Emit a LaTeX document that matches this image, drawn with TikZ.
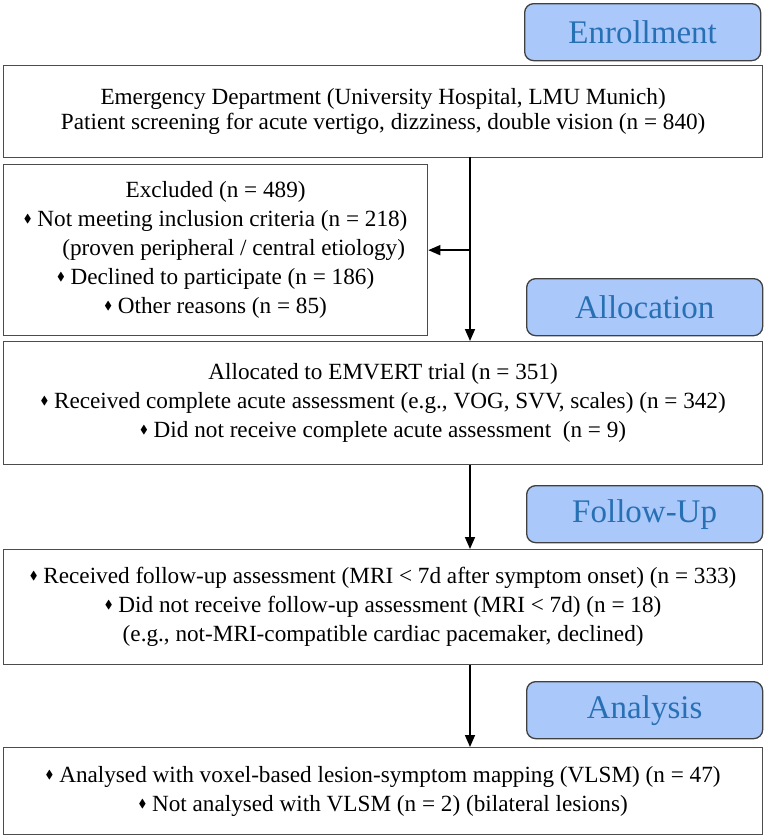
\documentclass[tikz,border=0pt]{standalone}
\usepackage{fontspec}
\usepackage{amssymb}
\usepackage{graphicx}
\setmainfont{Liberation Serif}
\usetikzlibrary{arrows.meta,positioning,calc}

\newcommand{\dia}{\raisebox{0.18em}{\scalebox{0.5}{$\blacklozenge$}}}

\begin{document}
\begin{tikzpicture}[x=1pt,y=-1pt,
    box/.style={draw=black!70, line width=1.3pt, fill=white, anchor=north west,
        align=center, inner sep=0pt, font=\fontsize{23.2}{29}\selectfont},
    stage/.style={draw=black!75, line width=1.3pt, fill=stagefill, rounded corners=9pt,
        anchor=north west, minimum width=236pt, minimum height=57pt, inner sep=0pt,
        text=stagetext, font=\fontsize{33}{36}\selectfont},
    arr/.style={line width=1.6pt, -{Triangle[length=12pt,width=10pt]}}]
    % Definizione colori
    \definecolor{stagefill}{RGB}{170,200,250}
    \definecolor{stagetext}{RGB}{40,112,180}

    \useasboundingbox (0,0) rectangle (765,839);

    % Fasi
    \node[stage] (enroll) at (524,3) {Enrollment};
    \node[stage] (allocst) at (526,278) {Allocation};
    \node[stage] (followst) at (526,485) {Follow-Up};
    \node[stage] (analyst) at (526,681) {Analysis};

    % Riquadri principali
    \node[box, minimum width=759pt, minimum height=92pt,
        font=\fontsize{23.2}{25}\selectfont] (screen) at (3,65)
        {Emergency Department (University Hospital, LMU Munich)\\
         Patient screening for acute vertigo, dizziness, double vision (n = 840)};
    \node[box, minimum width=424pt, minimum height=171pt] (excl) at (3,164)
        {Excluded (n = 489)\\
         \dia\ Not meeting inclusion criteria (n = 218)\\
         \hspace*{36pt}(proven peripheral / central etiology)\\
         \dia\ Declined to participate (n = 186)\\
         \dia\ Other reasons (n = 85)};
    \node[box, minimum width=759pt, minimum height=123pt] (alloc) at (3,341)
        {Allocated to EMVERT trial (n = 351)\\
         \dia\ Received complete acute assessment (e.g., VOG, SVV, scales) (n = 342)\\
         \dia\ Did not receive complete acute assessment\ \ (n = 9)};
    \node[box, minimum width=759pt, minimum height=115pt] (follow) at (3,549)
        {\dia\ Received follow-up assessment (MRI < 7d after symptom onset) (n = 333)\\
         \dia\ Did not receive follow-up assessment (MRI < 7d) (n = 18)\\
         (e.g., not-MRI-compatible cardiac pacemaker, declined)};
    \node[box, minimum width=759pt, minimum height=87pt] (analys) at (3,747)
        {\dia\ Analysed with voxel-based lesion-symptom mapping (VLSM) (n = 47)\\
         \dia\ Not analysed with VLSM (n = 2) (bilateral lesions)};

    % Frecce
    \coordinate (t1) at (470,157);
    \draw[arr] (t1) -- (t1 |- alloc.north);
    \draw[arr] (t1 |- excl.east) -- (excl.east);
    \draw[arr] (t1 |- alloc.south) -- (t1 |- follow.north);
    \draw[arr] (t1 |- follow.south) -- (t1 |- analys.north);
\end{tikzpicture}
\end{document}
